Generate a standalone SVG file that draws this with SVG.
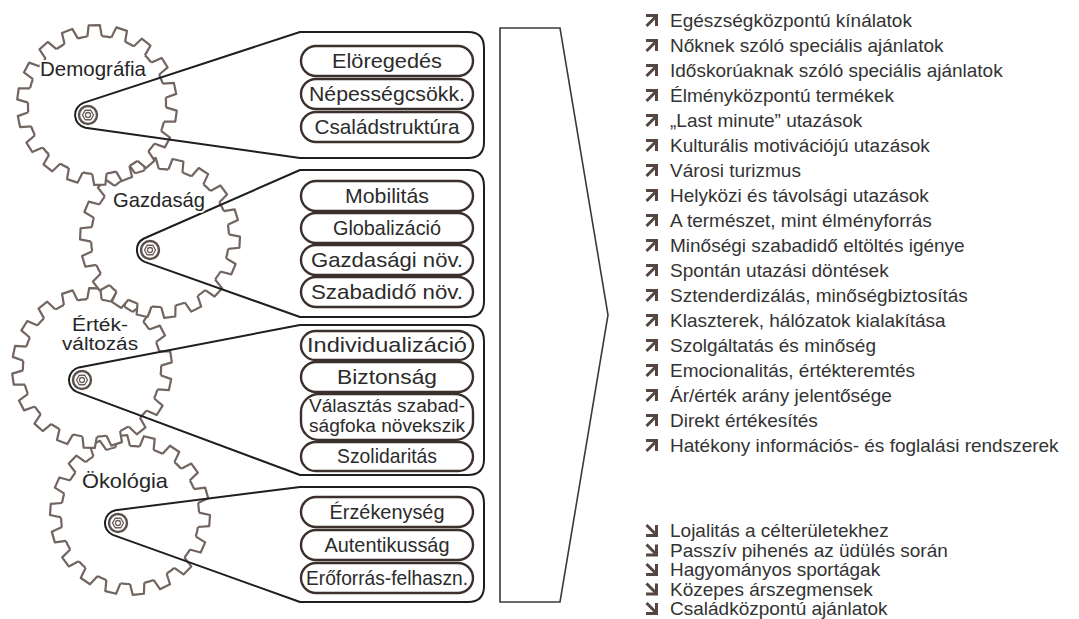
<svg xmlns="http://www.w3.org/2000/svg" width="1079" height="619" viewBox="0 0 1079 619">
<style>
.gb{fill:#fff;stroke:#726560;stroke-width:2.2}
.gl{fill:none;stroke:#726560;stroke-width:2.2;stroke-linejoin:round}
.belt{fill:none;stroke:#1e1e1e;stroke-width:2;stroke-linejoin:round}
.pill{fill:#fff;stroke:#3b302c;stroke-width:2.4}
.pt{font-family:"Liberation Sans",Arial,sans-serif;font-size:21px;fill:#2b2b2b;text-anchor:middle}
.pt2{font-family:"Liberation Sans",Arial,sans-serif;font-size:18px;fill:#2b2b2b;text-anchor:middle}
.gt{font-family:"Liberation Sans",Arial,sans-serif;font-size:21px;fill:#262626;stroke:#fff;stroke-width:4;paint-order:stroke;stroke-linejoin:round}
.gt2{font-family:"Liberation Sans",Arial,sans-serif;font-size:18px;fill:#262626;stroke:#fff;stroke-width:4;paint-order:stroke;stroke-linejoin:round}
.lt{font-family:"Liberation Sans",Arial,sans-serif;font-size:19px;fill:#333}
.ic{fill:none;stroke:#544643;stroke-width:3}
.hubr{fill:#fff;stroke:#5a504c;stroke-width:2.4}
.hubi{fill:none;stroke:#6a605c;stroke-width:1.3}
</style>
<defs>
<g id="tooth"><polygon points="66,-7.6 68.62,-7.21 79.8,-5.58 79.8,5.58 68.62,7.21 66,7.6" fill="#fff"/><polyline points="68.62,-7.21 79.8,-5.58 79.8,5.58 68.62,7.21" class="gl"/></g>
<g id="gear">
<circle r="69" class="gb"/>
<use href="#tooth"/><use href="#tooth" transform="rotate(20)"/><use href="#tooth" transform="rotate(40)"/><use href="#tooth" transform="rotate(60)"/><use href="#tooth" transform="rotate(80)"/><use href="#tooth" transform="rotate(100)"/><use href="#tooth" transform="rotate(120)"/><use href="#tooth" transform="rotate(140)"/><use href="#tooth" transform="rotate(160)"/><use href="#tooth" transform="rotate(180)"/><use href="#tooth" transform="rotate(200)"/><use href="#tooth" transform="rotate(220)"/><use href="#tooth" transform="rotate(240)"/><use href="#tooth" transform="rotate(260)"/><use href="#tooth" transform="rotate(280)"/><use href="#tooth" transform="rotate(300)"/><use href="#tooth" transform="rotate(320)"/><use href="#tooth" transform="rotate(340)"/>
</g>
<g id="hub"><circle r="9" class="hubr"/><polygon points="5.5,0 2.75,4.76 -2.75,4.76 -5.5,0 -2.75,-4.76 2.75,-4.76" class="hubi"/><circle r="2.5" class="hubi"/></g>
<g id="up"><path d="M1,1.5 H11.5 V12" class="ic"/><path d="M1.5,12 L10.5,3" class="ic"/></g>
<g id="dn"><path d="M11.5,1 V11.5 H1" class="ic"/><path d="M1.5,1 L10.5,10" class="ic"/></g>
</defs>

<g id="gears">
<use href="#gear" transform="translate(130,515) rotate(4)"/>
<use href="#gear" transform="translate(92,368) rotate(12)"/>
<use href="#gear" transform="translate(160,238) rotate(3)"/>
<use href="#gear" transform="translate(97,105) rotate(8)"/>
</g>

<g id="connectors">
<path class="belt" d="M83.3,102.9 L300,32 H468 Q484,32 484,48 V142 Q484,158 468,158 H300 L85.4,127.7 A13,13 0 0 1 83.3,102.9 Z"/>
<path class="belt" d="M143.9,238.5 L300,170 H468 Q484,170 484,186 V301 Q484,317 468,317 H300 L144.7,261.9 A13,13 0 0 1 143.9,238.5 Z"/>
<path class="belt" d="M78.8,367.4 L300,325 H468 Q484,325 484,341 V459 Q484,475 468,475 H300 L76.8,391.9 A13,13 0 0 1 78.8,367.4 Z"/>
<path class="belt" d="M115.5,510.2 L300,487 H468 Q484,487 484,503 V586 Q484,602 468,602 H300 L112.8,534.9 A13,13 0 0 1 115.5,510.2 Z"/>
</g>

<g id="demografia">
<use href="#hub" x="88" y="115"/>
<text class="gt" x="40" y="76" textLength="106" lengthAdjust="spacingAndGlyphs">Demográfia</text>
<rect class="pill" x="301" y="46" width="172" height="30" rx="15"/>
<text class="pt" x="387" y="68" textLength="110" lengthAdjust="spacingAndGlyphs">Elöregedés</text>
<rect class="pill" x="301" y="79" width="172" height="30" rx="15"/>
<text class="pt" x="387" y="101" textLength="156" lengthAdjust="spacingAndGlyphs">Népességcsökk.</text>
<rect class="pill" x="301" y="112" width="172" height="30" rx="15"/>
<text class="pt" x="387" y="134" textLength="145" lengthAdjust="spacingAndGlyphs">Családstruktúra</text>
</g>

<g id="gazdasag">
<use href="#hub" x="150" y="250"/>
<text class="gt" x="113" y="207" textLength="92" lengthAdjust="spacingAndGlyphs">Gazdaság</text>
<rect class="pill" x="301" y="181" width="172" height="30" rx="15"/>
<text class="pt" x="387" y="203" textLength="84" lengthAdjust="spacingAndGlyphs">Mobilitás</text>
<rect class="pill" x="301" y="213" width="172" height="30" rx="15"/>
<text class="pt" x="387" y="235" textLength="108" lengthAdjust="spacingAndGlyphs">Globalizáció</text>
<rect class="pill" x="301" y="245" width="172" height="30" rx="15"/>
<text class="pt" x="387" y="267" textLength="152" lengthAdjust="spacingAndGlyphs">Gazdasági növ.</text>
<rect class="pill" x="301" y="277" width="172" height="30" rx="15"/>
<text class="pt" x="387" y="299" textLength="152" lengthAdjust="spacingAndGlyphs">Szabadidő növ.</text>
</g>

<g id="ertekvaltozas">
<use href="#hub" x="82" y="380"/>
<text class="gt2" x="72" y="331" textLength="56" lengthAdjust="spacingAndGlyphs">Érték-</text>
<text class="gt2" x="62" y="350" textLength="76" lengthAdjust="spacingAndGlyphs">változás</text>
<rect class="pill" x="301" y="331" width="172" height="29" rx="14.5"/>
<text class="pt" x="387" y="352" textLength="160" lengthAdjust="spacingAndGlyphs">Individualizáció</text>
<rect class="pill" x="301" y="362" width="172" height="30" rx="15"/>
<text class="pt" x="387" y="384" textLength="100" lengthAdjust="spacingAndGlyphs">Biztonság</text>
<rect class="pill" x="301" y="394" width="172" height="46" rx="18"/>
<text class="pt2" x="387" y="412" textLength="156" lengthAdjust="spacingAndGlyphs">Választás szabad-</text>
<text class="pt2" x="387" y="432" textLength="156" lengthAdjust="spacingAndGlyphs">ságfoka növekszik</text>
<rect class="pill" x="301" y="442" width="172" height="29" rx="14.5"/>
<text class="pt" x="387" y="463" textLength="100" lengthAdjust="spacingAndGlyphs">Szolidaritás</text>
</g>

<g id="okologia">
<use href="#hub" x="118" y="523"/>
<text class="gt" x="82" y="488" textLength="86" lengthAdjust="spacingAndGlyphs">Ökológia</text>
<rect class="pill" x="301" y="497" width="172" height="30" rx="15"/>
<text class="pt" x="387" y="519" textLength="115" lengthAdjust="spacingAndGlyphs">Érzékenység</text>
<rect class="pill" x="301" y="530" width="172" height="30" rx="15"/>
<text class="pt" x="387" y="552" textLength="125" lengthAdjust="spacingAndGlyphs">Autentikusság</text>
<rect class="pill" x="301" y="563" width="172" height="30" rx="15"/>
<text class="pt" x="387" y="585" textLength="162" lengthAdjust="spacingAndGlyphs">Erőforrás-felhaszn.</text>
</g>

<g id="arrow">
<polygon points="500,28 560,28 608,315 560,602 500,602" fill="none" stroke="#3a3a3a" stroke-width="1.6"/>
</g>

<g id="trends-up">
<use href="#up" x="645" y="14"/><text class="lt" x="670" y="27">Egészségközpontú kínálatok</text>
<use href="#up" x="645" y="39"/><text class="lt" x="670" y="52">Nőknek szóló speciális ajánlatok</text>
<use href="#up" x="645" y="64"/><text class="lt" x="670" y="77">Időskorúaknak szóló speciális ajánlatok</text>
<use href="#up" x="645" y="89"/><text class="lt" x="670" y="102">Élményközpontú termékek</text>
<use href="#up" x="645" y="114"/><text class="lt" x="670" y="127">„Last minute” utazások</text>
<use href="#up" x="645" y="139"/><text class="lt" x="670" y="152">Kulturális motivációjú utazások</text>
<use href="#up" x="645" y="164"/><text class="lt" x="670" y="177">Városi turizmus</text>
<use href="#up" x="645" y="189"/><text class="lt" x="670" y="202">Helyközi és távolsági utazások</text>
<use href="#up" x="645" y="214"/><text class="lt" x="670" y="227">A természet, mint élményforrás</text>
<use href="#up" x="645" y="239"/><text class="lt" x="670" y="252">Minőségi szabadidő eltöltés igénye</text>
<use href="#up" x="645" y="264"/><text class="lt" x="670" y="277">Spontán utazási döntések</text>
<use href="#up" x="645" y="289"/><text class="lt" x="670" y="302">Sztenderdizálás, minőségbiztosítás</text>
<use href="#up" x="645" y="314"/><text class="lt" x="670" y="327">Klaszterek, hálózatok kialakítása</text>
<use href="#up" x="645" y="339"/><text class="lt" x="670" y="352">Szolgáltatás és minőség</text>
<use href="#up" x="645" y="364"/><text class="lt" x="670" y="377">Emocionalitás, értékteremtés</text>
<use href="#up" x="645" y="389"/><text class="lt" x="670" y="402">Ár/érték arány jelentősége</text>
<use href="#up" x="645" y="414"/><text class="lt" x="670" y="427">Direkt értékesítés</text>
<use href="#up" x="645" y="439"/><text class="lt" x="670" y="452">Hatékony információs- és foglalási rendszerek</text>
</g>

<g id="trends-down">
<use href="#dn" x="645" y="524"/><text class="lt" x="670" y="537">Lojalitás a célterületekhez</text>
<use href="#dn" x="645" y="543.5"/><text class="lt" x="670" y="556.5">Passzív pihenés az üdülés során</text>
<use href="#dn" x="645" y="563"/><text class="lt" x="670" y="576">Hagyományos sportágak</text>
<use href="#dn" x="645" y="582.5"/><text class="lt" x="670" y="595.5">Közepes árszegmensek</text>
<use href="#dn" x="645" y="602"/><text class="lt" x="670" y="615">Családközpontú ajánlatok</text>
</g>
</svg>
